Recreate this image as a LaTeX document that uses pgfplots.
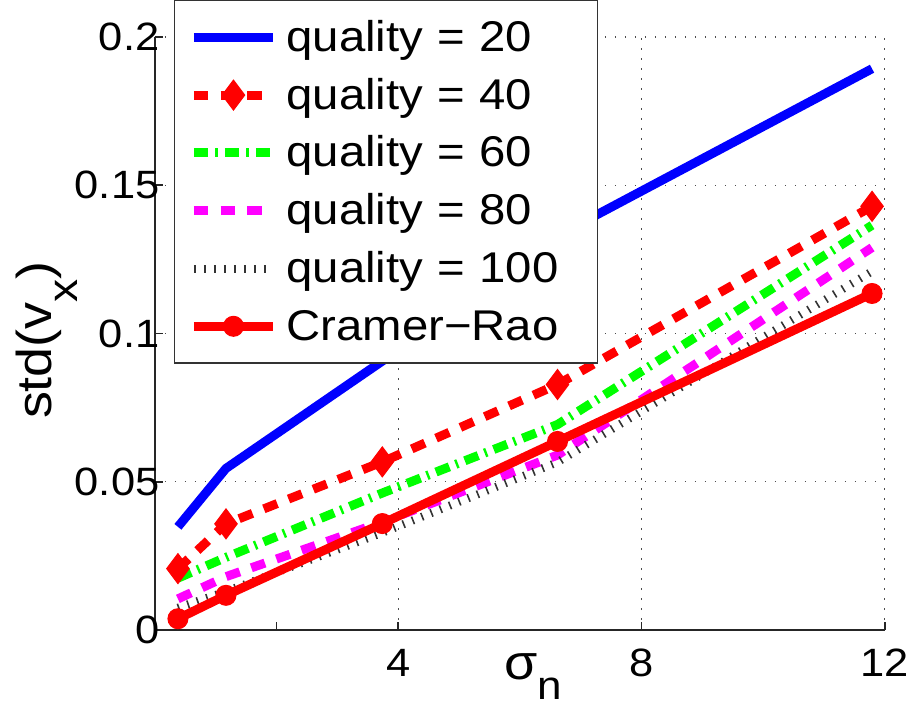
\documentclass[border=0pt]{standalone}
\usepackage{pgfplots}
\pgfplotsset{compat=1.18}
\usepackage{fontspec}
\setmainfont{Liberation Sans}[FakeStretch=1.1]
\definecolor{mymag}{RGB}{255,0,255}
\begin{document}
\begin{tikzpicture}
\begin{axis}[
  scale only axis,
  width=365pt, height=296.5pt,
  xmin=0, xmax=12, ymin=0, ymax=0.2,
  clip=false,
  axis x line*=bottom, axis y line*=left,
  axis line style={line width=0.9pt, black!85},
  xtick={4,8,12}, xticklabels={4,8,12},
  extra x ticks={2}, extra x tick labels={}, extra x tick style={grid=none},
  ytick={0,0.05,0.1,0.15,0.2}, yticklabels={0,0.05,0.1,0.15,0.2},
  tick align=inside, major tick length=4pt,
  tick style={line width=0.8pt, black!85},
  xmajorgrids, ymajorgrids,
  major grid style={line width=0.6pt, black!70, dash pattern=on 0.8pt off 4.2pt},
  /pgf/number format/assume math mode=true,
  ticklabel style={font=\fontsize{19.75}{22}\selectfont, inner sep=0pt},
  xticklabel style={yshift=-9.5pt, inner xsep=1.5pt},
  yticklabel style={xshift=2.5pt},
  xlabel={σ\raisebox{-10pt}{\fontsize{20}{20}\selectfont n}},
  xlabel style={at={(axis description cs:0.518,0)}, anchor=base, yshift=-24.5pt, inner xsep=0pt, inner ysep=3pt, font=\fontsize{24.5}{26}\selectfont},
  ylabel={std(v\raisebox{-13pt}{\fontsize{21}{21}\selectfont x})},
  ylabel style={at={(axis description cs:-0.1415,0.489)}, anchor=base, inner xsep=0pt, inner ysep=8pt, font=\fontsize{24.5}{26}\selectfont},
  legend style={at={(axis description cs:0.026,1.0624)}, anchor=north west, draw=black!80, line width=0.7pt, fill=white,
    font=\fontsize{21.5}{24}\selectfont, inner xsep=7.5pt, inner ysep=8.3pt, row sep=8.9pt, column sep=4.5pt,
    nodes={inner sep=0pt, text height=17pt, text depth=3pt, text width=148pt, align=left}},
  legend cell align=left,
  legend image code/.code={\draw[mark repeat=2,mark phase=2] plot coordinates {(0pt,0pt) (19.75pt,0pt) (39.5pt,0pt)};},
]
\addplot[blue, line width=4.5pt] coordinates {(0.38,0.0348) (1.17,0.0545) (3.74,0.0907) (6.62,0.133) (11.79,0.1893)};
\addlegendentry{quality = 20}
\addplot[red, line width=4.5pt, dash pattern=on 7.2pt off 6.1pt, mark=diamond*, mark size=7.5pt, mark options={solid, line width=0.5pt}] coordinates {(0.38,0.0207) (1.17,0.0358) (3.74,0.0567) (6.62,0.0828) (11.79,0.1429)};
\addlegendentry{quality = 40}
\addplot[green, line width=4.5pt, dash pattern=on 7.2pt off 3.4pt on 1.2pt off 3.7pt] coordinates {(0.38,0.0175) (1.17,0.0245) (3.74,0.0462) (6.62,0.0693) (11.79,0.1365)};
\addlegendentry{quality = 60}
\addplot[mymag, line width=4.5pt, dash pattern=on 7.2pt off 6.1pt] coordinates {(0.38,0.0105) (1.17,0.018) (3.74,0.0364) (6.62,0.059) (11.79,0.129)};
\addlegendentry{quality = 80}
\addplot[black!80, line width=4pt, dash pattern=on 0.8pt off 4.2pt] coordinates {(0.38,0.0075) (1.17,0.013) (3.74,0.0328) (6.62,0.0566) (11.79,0.121)};
\addlegendentry{quality = 100}
\addplot[red, line width=4.5pt, mark=*, mark size=5pt, mark options={solid, line width=0.5pt}] coordinates {(0.38,0.0038) (1.17,0.0117) (3.74,0.0359) (6.62,0.0636) (11.79,0.1135)};
\addlegendentry{Cramer−Rao}
\end{axis}
\end{tikzpicture}
\end{document}
